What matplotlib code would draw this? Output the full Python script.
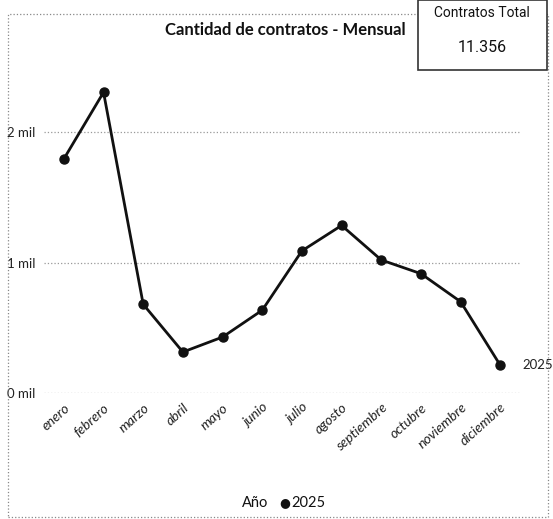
import matplotlib.pyplot as plt
from matplotlib.patches import Rectangle

# datos
meses = ['enero', 'febrero', 'marzo', 'abril', 'mayo', 'junio', 'julio',
         'agosto', 'septiembre', 'octubre', 'noviembre', 'diciembre']
contratos_2025 = [1795, 2306, 680, 314, 429, 635, 1090, 1285, 1020, 915, 700, 212]
y_ticks = [0, 1000, 2000]
y_tick_labels = ['0 mil', '1 mil', '2 mil']
total_label = '11.356'

plt.rcParams['font.family'] = ['Lato', 'DejaVu Sans']

fig = plt.figure(figsize=(5.53, 5.19), dpi=100)
ax = fig.add_axes([0.0796, 0.2428, 0.861, 0.603])

x = range(len(meses))
ax.plot(x, contratos_2025, color='#111111', linewidth=2, marker='o',
        markersize=6.5, zorder=3)
ax.text(len(meses) - 1 + 0.55, contratos_2025[-1], '2025', fontsize=9.5,
        va='center', ha='left', color='#222222')

ax.set_xlim(-0.5, len(meses) - 0.5)
ax.set_ylim(0, 2400)
ax.set_yticks(y_ticks)
ax.set_yticklabels(y_tick_labels, fontsize=9.5, color='#222222')
ax.set_xticks(list(x))
ax.set_xticklabels(meses, rotation=42, ha='right', rotation_mode='anchor',
                   fontsize=10, style='italic', color='#222222')
ax.tick_params(length=0, pad=6)
ax.grid(axis='y', linestyle=':', color='#999999', linewidth=0.9)
for s in ax.spines.values():
    s.set_visible(False)

# marco punteado exterior
fig.patches.append(Rectangle((0.0145, 0.004), 0.977, 0.969,
                             transform=fig.transFigure, fill=False,
                             linestyle=':', edgecolor='#888888', linewidth=0.9))

fig.text(285 / 553, 0.942, 'Cantidad de contratos - Mensual', fontsize=12,
         fontweight='bold', ha='center', va='center', color='#111111')

# tarjeta de total
fig.patches.append(Rectangle((418 / 553, 1 - 70 / 519), 129 / 553, 70 / 519,
                             transform=fig.transFigure, facecolor='white',
                             edgecolor='#333333', linewidth=1.2, zorder=5))
fig.text(482 / 553, 1 - 13 / 519, 'Contratos Total', fontsize=10,
         family=['Roboto', 'DejaVu Sans'],
         ha='center', va='center', color='#111111', zorder=6)
fig.text(482 / 553, 1 - 47 / 519, total_label, fontsize=11.5,
         family=['Roboto', 'DejaVu Sans'],
         ha='center', va='center', color='#111111', zorder=6)

# leyenda
fig.text(268 / 553, 1 - 503 / 519, 'Año', fontsize=10.5, ha='right',
         va='center', color='#111111')
fig.text(285 / 553, 1 - 503 / 519, '●', fontsize=9, ha='center',
         va='center', color='#111111', family=['DejaVu Sans'])
fig.text(291 / 553, 1 - 503 / 519, '2025', fontsize=10.5, ha='left',
         va='center', color='#111111')

fig.savefig('out.png', dpi=100)
